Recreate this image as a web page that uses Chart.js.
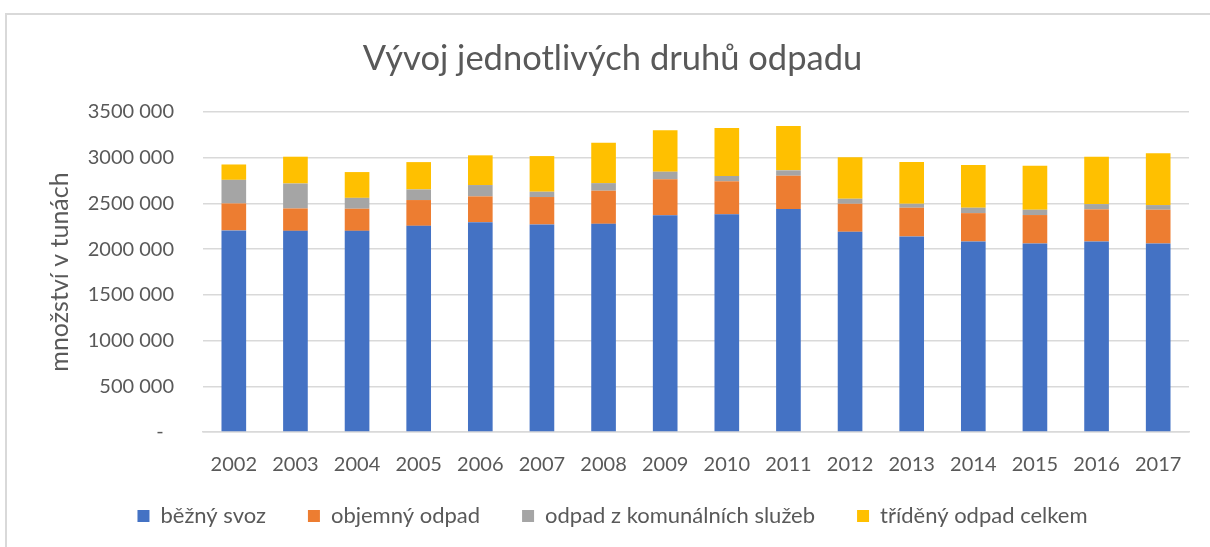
<!DOCTYPE html>
<html>
<head>
<meta charset="utf-8">
<script src="https://cdn.jsdelivr.net/npm/chart.js@4/dist/chart.umd.min.js"></script>
<style>
  html, body { margin: 0; padding: 0; background: #ffffff; }
  #wrap { width: 1210px; height: 547px; position: relative; }
</style>
</head>
<body>
<div id="wrap"><canvas id="c" width="1210" height="547"></canvas></div>
<script>
const years = ['2002','2003','2004','2005','2006','2007','2008','2009','2010','2011','2012','2013','2014','2015','2016','2017'];
const bezny = [2205000, 2200000, 2200000, 2255000, 2295000, 2270000, 2277000, 2370000, 2381000, 2438000, 2190000, 2139000, 2084000, 2062000, 2084000, 2062000];
const objemny = [295000, 245000, 242000, 282000, 282000, 300000, 362000, 394000, 361000, 365000, 306000, 314000, 310000, 311000, 351000, 369000];
const komunalni = [258000, 273000, 119000, 116000, 124000, 58000, 83000, 83000, 58000, 59000, 55000, 43000, 59000, 58000, 58000, 51000];
const trideny = [168000, 293000, 282000, 299000, 325000, 390000, 442000, 453000, 524000, 484000, 453000, 456000, 467000, 481000, 518000, 566000];
const seriesNames = ['běžný svoz', 'objemný odpad', 'odpad z komunálních služeb', 'tříděný odpad celkem'];
const chartTitle = 'Vývoj jednotlivých druhů odpadu';
const yTitle = 'množství v tunách';
const yMax = 3500000;
const yStep = 500000;

const FONT = 'Lato, "Liberation Sans", sans-serif';
const TXT = '#595959';

function fmt(v) {
  if (v === 0) return '-  ';
  const th = Math.floor(v / 1000);
  const rest = String(v % 1000).padStart(3, '0');
  return th + ' ' + rest;
}

const frame = {
  id: 'frame',
  afterLayout(chart) {
    // let x tick labels use the full band below the axis (no clipping)
    const x = chart.scales.x;
    x.bottom = x.top + 45;
    x.height = 45;
  },
  beforeDraw(chart) {
    const ctx = chart.ctx;
    ctx.save();
    ctx.strokeStyle = '#d9d9d9';
    ctx.lineWidth = 2;
    ctx.beginPath();
    ctx.moveTo(6, chart.height + 2);
    ctx.lineTo(6, 14);
    ctx.lineTo(chart.width + 2, 14);
    ctx.stroke();
    ctx.restore();
  }
};

const colors = ['#4472C4', '#ED7D31', '#A5A5A5', '#FFC000'];
const dataArr = [bezny, objemny, komunalni, trideny];

new Chart(document.getElementById('c'), {
  type: 'bar',
  data: {
    labels: years,
    datasets: dataArr.map((d, i) => ({
      label: seriesNames[i],
      data: d,
      backgroundColor: colors[i],
      borderWidth: 0,
      barPercentage: 0.4,
      categoryPercentage: 1.0
    }))
  },
  plugins: [frame],
  options: {
    responsive: false,
    animation: false,
    layout: { padding: { left: 36, right: 21, top: 0, bottom: 10 } },
    plugins: {
      title: {
        display: true,
        text: chartTitle,
        color: TXT,
        font: { family: FONT, size: 34.5, weight: 'normal', lineHeight: 1.2 },
        padding: { top: 38.3, bottom: 32.3 }
      },
      legend: {
        position: 'bottom',
        labels: {
          color: TXT,
          font: { family: FONT, size: 22 },
          boxWidth: 12,
          boxHeight: 12,
          padding: 42
        }
      },
      tooltip: { enabled: false }
    },
    scales: {
      x: {
        stacked: true,
        grid: { display: false, drawTicks: false },
        border: { display: true, color: '#d9d9d9', width: 1.5 },
        ticks: { color: TXT, font: { family: FONT, size: 20 }, padding: 21, maxRotation: 0 },
        afterFit(scale) { scale.height = 31; }
      },
      y: {
        stacked: true,
        min: 0,
        max: yMax,
        grid: { color: '#d9d9d9', lineWidth: 1.5, drawTicks: false },
        border: { display: false },
        ticks: { stepSize: yStep, color: TXT, font: { family: FONT, size: 20 }, padding: 29, callback: (v) => fmt(v) },
        title: {
          display: true,
          text: yTitle,
          color: TXT,
          font: { family: FONT, size: 25 },
          padding: { top: 9, bottom: 0 }
        },
        afterFit(scale) { scale.width = 167; }
      }
    }
  }
});
</script>
</body>
</html>
